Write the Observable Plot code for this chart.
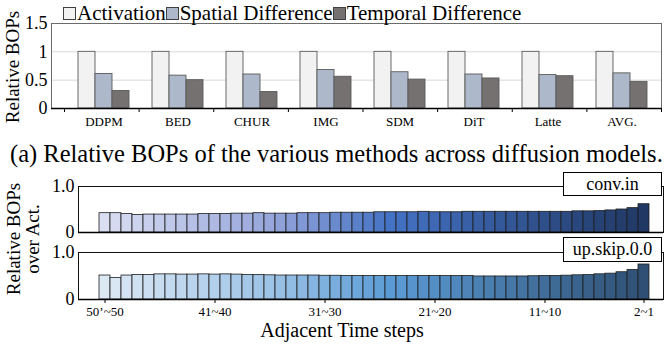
<!DOCTYPE html>
<html><head><meta charset="utf-8">
<script src="https://cdn.jsdelivr.net/npm/d3@7"></script>
<script src="https://cdn.jsdelivr.net/npm/@observablehq/plot@0.6"></script>
<style>
body{margin:0;background:#fff;}
#fig{position:relative;width:664px;height:345px;overflow:hidden;font-family:"Liberation Serif","Times New Roman",serif;color:#000;background:#fff;}
.abs{position:absolute;white-space:nowrap;}
#fig svg{overflow:visible;position:absolute;left:0;}
.sw{display:inline-block;width:13px;height:13px;border:1px solid #404040;box-sizing:border-box;margin-right:1px;}
.box{position:absolute;border:1px solid #000;background:#fff;font-size:18px;line-height:22px;text-align:center;box-sizing:border-box;}
.rot{position:absolute;transform:translate(-50%,-50%) rotate(-90deg);white-space:nowrap;text-align:center;}
</style></head><body><div id="fig"></div>
<script>
// ---- data: top chart ----
const models = ["DDPM","BED","CHUR","IMG","SDM","DiT","Latte","AVG."];
const methods = ["Activation","Spatial Difference","Temporal Difference"];
const activation = [1,1,1,1,1,1,1,1];
const spatial = [0.61,0.58,0.60,0.68,0.64,0.60,0.59,0.62];
const temporal = [0.31,0.50,0.29,0.56,0.51,0.53,0.57,0.47];
const yTicksTop = [0,0.5,1,1.5];
const methodColors = ["#f2f2f2","#adb9ca","#767171"];

// ---- data: bottom panels ----
const stepKeys = ["50’~50", ...d3.range(50,1,-1).map(k => `${k}~${k-1}`)];
const tickLabels = ["50’~50","41~40","31~30","21~20","11~10","2~1"];
const convIn = [0.42,0.42,0.40,0.38,0.39,0.39,0.39,0.39,0.39,0.40,0.40,0.40,0.41,0.41,0.42,0.41,
  0.41,0.41,0.42,0.42,0.42,0.43,0.43,0.43,0.43,0.44,0.44,0.44,0.44,0.45,0.44,0.44,0.44,
  0.45,0.45,0.45,0.45,0.45,0.45,0.45,0.45,0.45,0.45,0.46,0.46,0.465,0.48,0.50,0.53,0.615];
const upSkip = [0.51,0.46,0.51,0.52,0.52,0.535,0.535,0.53,0.53,0.535,0.53,0.535,0.53,0.52,0.52,0.515,
  0.51,0.51,0.51,0.51,0.505,0.505,0.50,0.50,0.50,0.50,0.50,0.50,0.50,0.50,0.50,0.50,0.50,
  0.50,0.49,0.49,0.49,0.49,0.49,0.495,0.50,0.50,0.507,0.515,0.52,0.536,0.55,0.58,0.63,0.745];
const panelNames = ["conv.in","up.skip.0.0"];
const convColors = ["#d9def2","#97a6db","#4472c4","#203864"];
const skipColors = ["#dde8f5","#9dc3e6","#5b9bd5","#2f5074"];
const colorStops = [0,15,26,49];

const fig = document.getElementById("fig");
const serif = "Liberation Serif, Times New Roman, serif";

// ---- top chart (layered: grid / bars / frame+labels share the same scales) ----
const tableA = models.flatMap((m,i)=>[
  {model:m, method:methods[0], value:activation[i]},
  {model:m, method:methods[1], value:spatial[i]},
  {model:m, method:methods[2], value:temporal[i]}]);
const dimsA = {width:664, height:135, marginTop:23, marginBottom:27, marginLeft:51, marginRight:3,
  style:{fontFamily:serif, color:"#000", background:"transparent"}};

const gridA = Plot.plot({...dimsA,
  y:{domain:[0,1.5], axis:null},
  marks:[Plot.ruleY([0.5,1],{stroke:"#d9d9d9", strokeWidth:1})]
});
const barsA = Plot.plot({...dimsA,
  fx:{domain:models, paddingInner:0.31, paddingOuter:0.155, insetLeft:13, label:null, axis:null},
  x:{domain:methods, padding:0, axis:null},
  y:{domain:[0,1.5], axis:null},
  color:{domain:methods, range:methodColors},
  marks:[
    Plot.barY(tableA,{fx:"model", x:"method", y:"value", fill:"method", stroke:"#5a5a5a", strokeWidth:0.9}),
    Plot.axisFx({anchor:"bottom", tickSize:0, tickPadding:8, fontSize:13, label:null})
  ]
});
// group-boundary ticks: linear x over group slots, same inset as the fx band scale
const frameA = Plot.plot({...dimsA,
  x:{type:"linear", domain:[0, models.length], insetLeft:13, axis:null},
  y:{domain:[0,1.5], axis:null},
  marks:[
    Plot.frame({stroke:"#6b6b6b", strokeWidth:1}),
    Plot.ruleY([0],{stroke:"#000", strokeWidth:1.6}),
    Plot.axisX({anchor:"bottom", ticks:d3.range(models.length + 1), tickSize:4, tickFormat:()=>"", label:null, stroke:"#000"}),
    Plot.axisY({ticks:yTicksTop, tickFormat:d=>String(d), tickSize:0, tickPadding:4, fontSize:18, label:null})
  ]
});
[gridA, barsA, frameA].forEach(c=>{c.style.top="0px"; fig.appendChild(c);});

// legend
const leg = document.createElement("div");
leg.className = "abs";
leg.style.cssText = "left:63px;top:2px;font-size:21px;line-height:22px;";
leg.innerHTML = methods.map((m,i)=>`<span class="sw" style="background:${methodColors[i]}"></span>${m}`).join("");
fig.appendChild(leg);

// y title top
const yt = document.createElement("div");
yt.className = "rot";
yt.style.cssText += "left:13px;top:67px;font-size:19px;";
yt.textContent = "Relative BOPs";
fig.appendChild(yt);

// caption
const cap = document.createElement("div");
cap.className = "abs";
cap.style.cssText = "left:10px;top:142px;font-size:24.5px;line-height:24px;";
cap.textContent = "(a) Relative BOPs of the various methods across diffusion models.";
fig.appendChild(cap);

// ---- bottom panels ----
function panel(values, colors, showX, top, h, mb){
  const data = values.map((v,i)=>({key:stepKeys[i], idx:i, value:v}));
  const c = Plot.plot({
    width:664, height:h, marginTop:16, marginBottom:mb, marginLeft:78, marginRight:1,
    style:{fontFamily:serif, color:"#000", background:"transparent"},
    x:{domain:stepKeys, padding:0, insetLeft:8.5, insetRight:1, axis:null},
    y:{domain:[0,1], axis:null},
    color:{type:"linear", domain:colorStops, range:colors},
    marks:[
      Plot.barY(data,{x:"key", y:"value", fill:"idx", stroke:"#1f1f1f", strokeWidth:0.8}),
      Plot.frame({stroke:"#111", strokeWidth:1}),
      Plot.ruleY([0],{stroke:"#000", strokeWidth:1.5}),
      Plot.axisY({ticks:[0,1], tickFormat:d=>d===0?"0":d.toFixed(1), tickSize:0, tickPadding:4, fontSize:18, label:null}),
      showX ? Plot.axisX({ticks:tickLabels, tickSize:4, tickPadding:3, fontSize:13, label:null}) : null
    ]
  });
  c.style.top = top + "px";
  fig.appendChild(c);
}
panel(convIn, convColors, false, 170, 70, 8);
panel(upSkip, skipColors, true, 236, 90, 27);

// panel name boxes
[[panelNames[0],172,24],[panelNames[1],237,25]].forEach(([t,top,h])=>{
  const b = document.createElement("div");
  b.className = "box";
  b.style.cssText += `left:563px;top:${top}px;width:99px;height:${h}px;`;
  b.textContent = t;
  fig.appendChild(b);
});

// y title bottom
const yb = document.createElement("div");
yb.className = "rot";
yb.style.cssText += "left:23px;top:239px;font-size:19px;line-height:19px;";
yb.innerHTML = "Relative BOPs<br>over Act.";
fig.appendChild(yb);

// x title bottom
const xb = document.createElement("div");
xb.className = "abs";
xb.style.cssText = "left:342px;top:318px;font-size:20px;line-height:24px;transform:translateX(-50%);";
xb.textContent = "Adjacent Time steps";
fig.appendChild(xb);
</script></body></html>
